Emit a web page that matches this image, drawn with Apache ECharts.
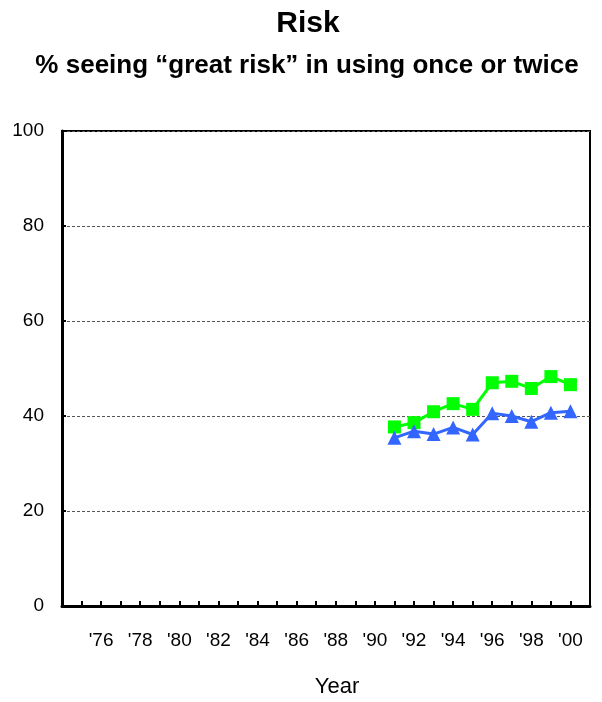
<!DOCTYPE html>
<html>
<head>
<meta charset="utf-8">
<script src="https://cdn.jsdelivr.net/npm/echarts@6/dist/echarts.min.js"></script>
<style>
html,body{margin:0;padding:0;background:#fff;}
#c{width:602px;height:702px;}
</style>
</head>
<body>
<div id="c"></div>
<script>
const titleText = 'Risk';
const subtitleText = '% seeing \u201cgreat risk\u201d in using once or twice';
const xAxisTitle = 'Year';
const years = [1991, 1992, 1993, 1994, 1995, 1996, 1997, 1998, 1999, 2000];
const greenValues = [37.7, 38.6, 40.9, 42.6, 41.4, 47.0, 47.3, 45.8, 48.3, 46.6];
const blueValues = [35.4, 36.8, 36.2, 37.6, 36.1, 40.6, 40.0, 38.8, 40.7, 41.0];
const xMin = 1974, xMax = 2001;
const yTicks = [0, 20, 40, 60, 80, 100];

const FONT = '"Liberation Sans", Arial, sans-serif';
const chart = echarts.init(document.getElementById('c'), null, {renderer: 'canvas'});
chart.setOption({
  animation: false,
  backgroundColor: '#fff',
  grid: {left: 62, right: 12, top: 131, bottom: 96, show: true, borderColor: '#000', borderWidth: 2, containLabel: false},
  graphic: [
    {type: 'text', x: 308, y: 24, style: {text: titleText, font: 'bold 30px ' + FONT, fill: '#000', textAlign: 'center', textVerticalAlign: 'middle'}},
    {type: 'text', x: 307, y: 66, style: {text: subtitleText, font: 'bold 26px ' + FONT, fill: '#000', textAlign: 'center', textVerticalAlign: 'middle'}},
    {type: 'text', x: 337, y: 687, style: {text: xAxisTitle, font: '22px ' + FONT, fill: '#000', textAlign: 'center', textVerticalAlign: 'middle'}}
  ],
  xAxis: {
    type: 'value', min: xMin, max: xMax, interval: 1,
    axisLine: {show: true, onZero: false, lineStyle: {color: '#000', width: 3}},
    axisTick: {show: true, inside: true, length: 5, lineStyle: {color: '#000', width: 2}},
    axisLabel: {
      margin: 25, color: '#000', fontFamily: FONT, fontSize: 19,
      showMinLabel: true, showMaxLabel: true,
      formatter: function (v) { return (v % 2 === 0 && v >= 1976 && v <= 2000) ? "'" + String(v).slice(2) : ''; }
    },
    splitLine: {show: false}
  },
  yAxis: {
    type: 'value', min: yTicks[0], max: yTicks[yTicks.length - 1], interval: 20,
    axisLine: {show: true, lineStyle: {color: '#000', width: 3}},
    axisTick: {show: true, inside: true, length: 4, lineStyle: {color: '#000', width: 2}},
    axisLabel: {margin: 18, color: '#000', fontFamily: FONT, fontSize: 19},
    splitLine: {show: true, lineStyle: {color: '#555', width: 1, type: [3, 2]}}
  },
  series: [
    {
      type: 'line', name: 'green',
      data: years.map((y, i) => [y, greenValues[i]]),
      symbol: 'rect', symbolSize: 13,
      lineStyle: {color: '#00ff00', width: 3},
      itemStyle: {color: '#00ff00'}
    },
    {
      type: 'line', name: 'blue',
      data: years.map((y, i) => [y, blueValues[i]]),
      symbol: 'triangle', symbolSize: 14,
      lineStyle: {color: '#3366ff', width: 3},
      itemStyle: {color: '#3366ff'}
    }
  ]
});
</script>
</body>
</html>
